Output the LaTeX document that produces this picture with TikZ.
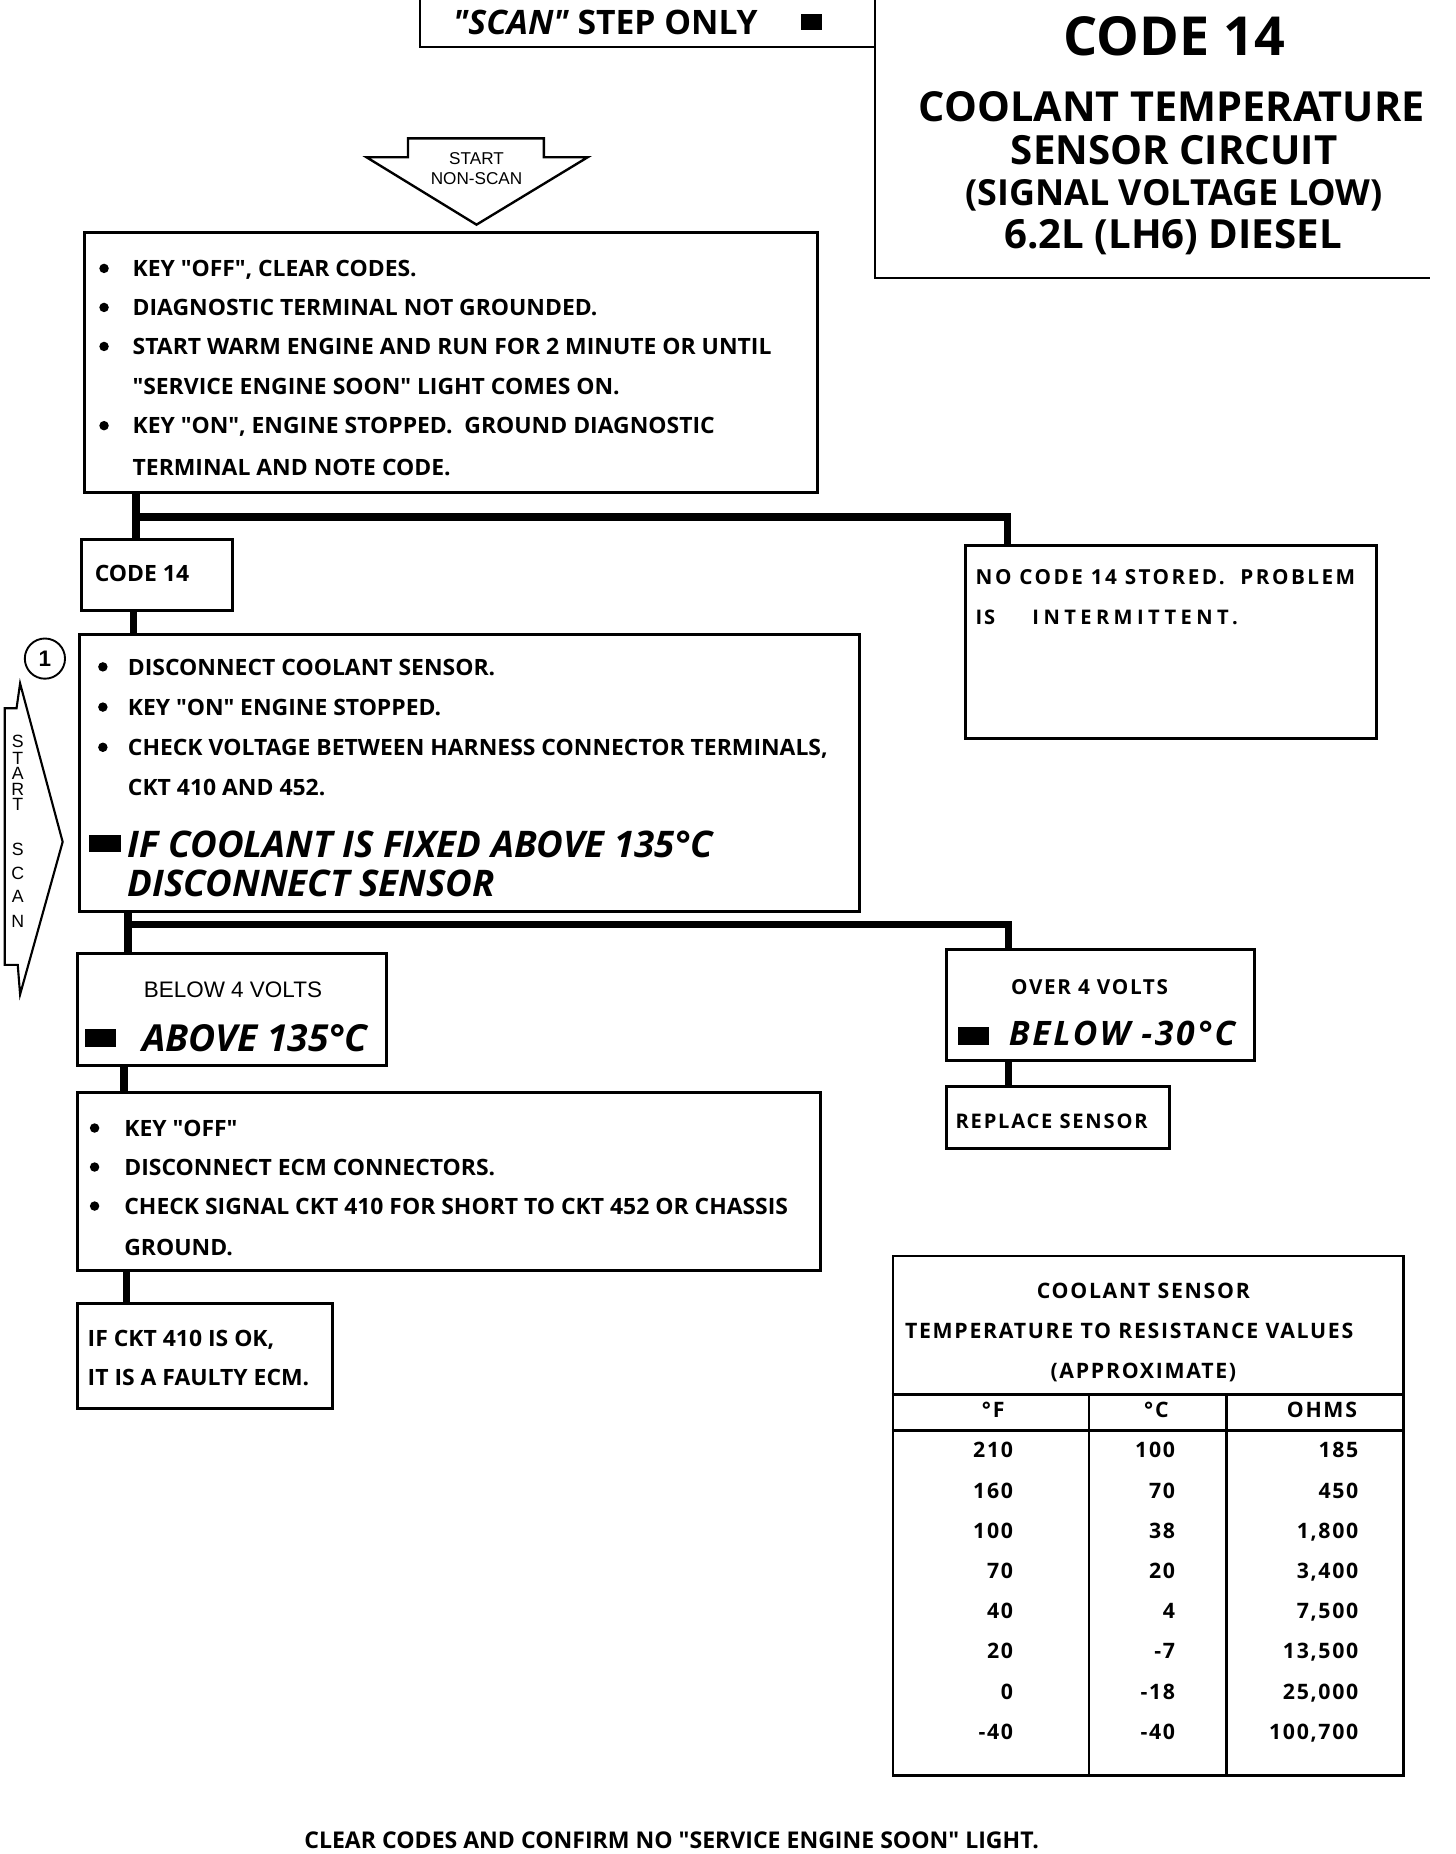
\documentclass[tikz,border=0pt]{standalone}
\usepackage{fontspec}
\setmainfont{Open Sans}
\newfontfamily\body{Open Sans}[FakeStretch=1.02]
\newfontfamily\hv{Liberation Sans}
\newfontfamily\osw{Open Sans}[LetterSpace=9]
\newfontfamily\oswn{Open Sans}[LetterSpace=12]
\newfontfamily\oswx{Open Sans}[LetterSpace=22]
\newfontfamily\osm{Open Sans}[LetterSpace=8]
\newcommand{\q}{\textquotedbl}
\tikzset{
  box/.style={draw, line width=2.5pt, rectangle, inner sep=0pt, anchor=north west},
  conn/.style={line width=6.5pt},
  thin/.style={line width=2pt},
  txt/.style={anchor=base west, inner sep=0pt, font=\body\bfseries\fontsize{19}{21}\selectfont},
  ctxt/.style={anchor=base, inner sep=0pt},
  rtxt/.style={anchor=base east, inner sep=0pt, font=\osm\bfseries\fontsize{18}{20}\selectfont},
  bul/.style={fill, circle, inner sep=0pt, minimum size=8pt},
  blk/.style={fill, rectangle, inner sep=0pt, anchor=north west},
}
\begin{document}
\begin{tikzpicture}[x=1pt,y=-1pt]
\useasboundingbox (0,0) rectangle (1231,1568);

% top-left SCAN box and header box frames
\draw[thin] (355,0) |- (740,40);
\draw[thin] (740,0) |- (1209,235);
\node[ctxt, font=\bfseries\fontsize{28.5}{30}\selectfont] (scan) at (512,29) {\itshape\q SCAN\q\upshape\ STEP ONLY};
\node[blk, minimum width=18pt, minimum height=13pt] (scanblk) at (677,12) {};

\node[ctxt, font=\bfseries\fontsize{45.5}{48}\selectfont] (h1) at (993,47) {CODE 14};
\node[ctxt, font=\bfseries\fontsize{35}{38}\selectfont] (h2) at (991,103) {COOLANT TEMPERATURE};
\node[ctxt, font=\bfseries\fontsize{34}{38}\selectfont] (h3) at (993,139) {SENSOR CIRCUIT};
\node[ctxt, font=\bfseries\fontsize{30.4}{32}\selectfont] (h4) at (993,174) {(SIGNAL VOLTAGE LOW)};
\node[ctxt, font=\bfseries\fontsize{34}{36}\selectfont] (h5) at (992,210) {6.2L (LH6) DIESEL};

% START NON-SCAN arrow
\draw[line width=2pt, line join=miter] (345,117) -- (460,117) -- (460,133) -- (497,133) -- (403,190) -- (310,133) -- (345,133) -- cycle;
\node[ctxt, font=\hv\fontsize{14.5}{16}\selectfont] (sn1) at (403,139) {START};
\node[ctxt, font=\hv\fontsize{14.5}{16}\selectfont] (sn2) at (403,156) {NON-SCAN};

% Box 1
\node[box, minimum width=620pt, minimum height=220pt] (box1) at (70,195) {};
\node[bul] (b1a) at (88,227) {};
\node[txt] (t1a) at (112,234) {KEY \q OFF\q, CLEAR CODES.};
\node[bul] (b1b) at (88,260) {};
\node[txt] (t1b) at (112,267) {DIAGNOSTIC TERMINAL NOT GROUNDED.};
\node[bul] (b1c) at (88,293) {};
\node[txt] (t1c) at (112,300) {START WARM ENGINE AND RUN FOR 2 MINUTE OR UNTIL};
\node[txt] (t1d) at (112,334) {\q SERVICE ENGINE SOON\q\ LIGHT COMES ON.};
\node[bul] (b1e) at (88,360) {};
\node[txt] (t1e) at (112,367) {KEY \q ON\q, ENGINE STOPPED.\ \ GROUND DIAGNOSTIC};
\node[txt] (t1f) at (112,402) {TERMINAL AND NOTE CODE.};

% CODE 14 box
\node[box, minimum width=127pt, minimum height=60pt] (code14) at (68,455) {};
\node[txt] (tc14) at (80,492) {CODE 14};

% NO CODE box
\node[box, minimum width=348pt, minimum height=163pt] (nocode) at (815,460) {};
\node[txt, font=\oswn\bfseries\fontsize{17.5}{18}\selectfont] (tnc1) at (825,494) {NO CODE 14 STORED.\ \ PROBLEM};
\node[txt, font=\osw\bfseries\fontsize{17}{18}\selectfont] (tnc2) at (825,528) {IS};
\node[txt, font=\oswx\bfseries\fontsize{17}{18}\selectfont] (tnc3) at (873,528) {INTERMITTENT.};

% connectors from box1
\coordinate (j1) at (115,437);
\coordinate (n1) at (852,437);
\draw[conn] (j1 |- box1.south) -- (j1 |- code14.north);
\draw[conn, line join=miter] (j1) -| (n1 |- nocode.north);

% Box 2
\node[box, minimum width=660pt, minimum height=235pt] (box2) at (66,535) {};
\coordinate (j2) at (113,0);
\draw[conn] (j2 |- code14.south) -- (j2 |- box2.north);
\node[draw, circle, line width=1.6pt, minimum size=34pt, inner sep=0pt, font=\hv\bfseries\fontsize{19}{20}\selectfont] (c1) at (38,557) {1};
\node[bul] (b2a) at (87,564) {};
\node[txt] (t2a) at (108,571) {DISCONNECT COOLANT SENSOR.};
\node[bul] (b2b) at (87,598) {};
\node[txt] (t2b) at (108,605) {KEY \q ON\q\ ENGINE STOPPED.};
\node[bul] (b2c) at (87,632) {};
\node[txt] (t2c) at (108,639) {CHECK VOLTAGE BETWEEN HARNESS CONNECTOR TERMINALS,};
\node[txt] (t2d) at (108,673) {CKT 410 AND 452.};
\node[blk, minimum width=27pt, minimum height=14pt] (blk2) at (75,706) {};
\node[txt, font=\bfseries\itshape\fontsize{31}{33}\selectfont] (t2e) at (108,725) {IF COOLANT IS FIXED ABOVE 135°C};
\node[txt, font=\bfseries\itshape\fontsize{31}{33}\selectfont] (t2f) at (108,758) {DISCONNECT SENSOR};

% START SCAN arrow
\draw[line width=1.8pt, line join=miter] (17,578) -- (53,712) -- (17,841) -- (15,816) -- (4,816) -- (4,599) -- (14,599) -- cycle;
\foreach \l/\yy [count=\i] in {S/627,T/641,A/654,R/667,T/680,S/718,C/738,A/758,N/779}
  \node[ctxt, font=\hv\fontsize{15}{16}\selectfont] (ss\i) at (15,\yy+5.5) {\l};

% connectors from box2
\coordinate (j3) at (108,782);
\coordinate (n3) at (853,782);
\node[box, minimum width=262pt, minimum height=95pt] (below) at (64,805) {};
\node[box, minimum width=261pt, minimum height=94pt] (over) at (799,802) {};
\draw[conn] (j3 |- box2.south) -- (j3 |- below.north);
\draw[conn, line join=miter] (j3) -| (n3 |- over.north);

\node[ctxt, font=\hv\fontsize{19}{20}\selectfont] (tbl1) at (197,844) {BELOW 4 VOLTS};
\node[blk, minimum width=26pt, minimum height=15pt] (blk3) at (72,870) {};
\node[txt, font=\bfseries\itshape\fontsize{31.5}{33}\selectfont] (tbl2) at (120,889) {ABOVE 135°C};

\node[txt, font=\osm\bfseries\fontsize{17.5}{18}\selectfont] (tov1) at (855,841) {OVER 4 VOLTS};
\node[blk, minimum width=26pt, minimum height=16pt] (blk4) at (810,868) {};
\node[txt, font=\osm\bfseries\itshape\fontsize{28.5}{30}\selectfont] (tov2) at (853,884) {BELOW -30°C};

% REPLACE SENSOR
\node[box, minimum width=189pt, minimum height=52pt] (repl) at (799,918) {};
\coordinate (j4) at (853,0);
\draw[conn] (j4 |- over.south) -- (j4 |- repl.north);
\node[txt, font=\osw\bfseries\fontsize{17}{18}\selectfont] (trep) at (808,954) {REPLACE SENSOR};

% Box 3
\node[box, minimum width=629pt, minimum height=150pt] (box3) at (64,923) {};
\coordinate (j5) at (105,0);
\draw[conn] (j5 |- below.south) -- (j5 |- box3.north);
\node[bul] (b3a) at (80,954) {};
\node[txt] (t3a) at (105,961) {KEY \q OFF\q};
\node[bul] (b3b) at (80,987) {};
\node[txt] (t3b) at (105,994) {DISCONNECT ECM CONNECTORS.};
\node[bul] (b3c) at (80,1020) {};
\node[txt] (t3c) at (105,1027) {CHECK SIGNAL CKT 410 FOR SHORT TO CKT 452 OR CHASSIS};
\node[txt] (t3d) at (105,1062) {GROUND.};

% Box 4
\node[box, minimum width=216pt, minimum height=89pt] (box4) at (64,1101) {};
\coordinate (j6) at (107,0);
\draw[conn] (j6 |- box3.south) -- (j6 |- box4.north);
\node[txt] (t4a) at (74,1139) {IF CKT 410 IS OK,};
\node[txt] (t4b) at (74,1172) {IT IS A FAULTY ECM.};

% Table
\node[box, minimum width=432pt, minimum height=439pt] (tab) at (754,1061) {};
\coordinate (r1) at (0,1179);
\coordinate (r2) at (0,1210);
\coordinate (cA) at (921,1179);
\coordinate (cB) at (1037,1179);
\draw[line width=2.5pt] (tab.west |- r1) -- (tab.east |- r1);
\draw[line width=2.5pt] (tab.west |- r2) -- (tab.east |- r2);
\draw[line width=2.5pt] (cA) -- (cA |- tab.south);
\draw[line width=2.5pt] (cB) -- (cB |- tab.south);
\node[ctxt, font=\osm\bfseries\fontsize{18}{20}\selectfont] (tt1) at (967,1098) {COOLANT SENSOR};
\node[ctxt, font=\osm\bfseries\fontsize{18}{20}\selectfont] (tt2) at (955,1132) {TEMPERATURE TO RESISTANCE VALUES};
\node[ctxt, font=\osm\bfseries\fontsize{18}{20}\selectfont] (tt3) at (967,1166) {(APPROXIMATE)};
\node[ctxt, font=\osm\bfseries\fontsize{18}{20}\selectfont] (th1) at (840,1199) {°F};
\node[ctxt, font=\osm\bfseries\fontsize{18}{20}\selectfont] (th2) at (978,1199) {°C};
\node[ctxt, font=\osm\bfseries\fontsize{18}{20}\selectfont] (th3) at (1118,1199) {OHMS};
\foreach \f/\c/\o [count=\i] in {210/100/185, 160/70/450, 100/38/{1,800}, 70/20/{3,400}, 40/4/{7,500}, 20/-7/{13,500}, 0/-18/{25,000}, -40/-40/{100,700}} {
  \node[rtxt] (rf\i) at (857,1199+34*\i) {\f};
  \node[rtxt] (rc\i) at (994,1199+34*\i) {\c};
  \node[rtxt] (ro\i) at (1149,1199+34*\i) {\o};
}

% Footer
\node[ctxt, font=\bfseries\fontsize{19.5}{20}\selectfont] (foot) at (568,1563) {CLEAR CODES AND CONFIRM NO \q SERVICE ENGINE SOON\q\ LIGHT.};
\end{tikzpicture}
\end{document}
